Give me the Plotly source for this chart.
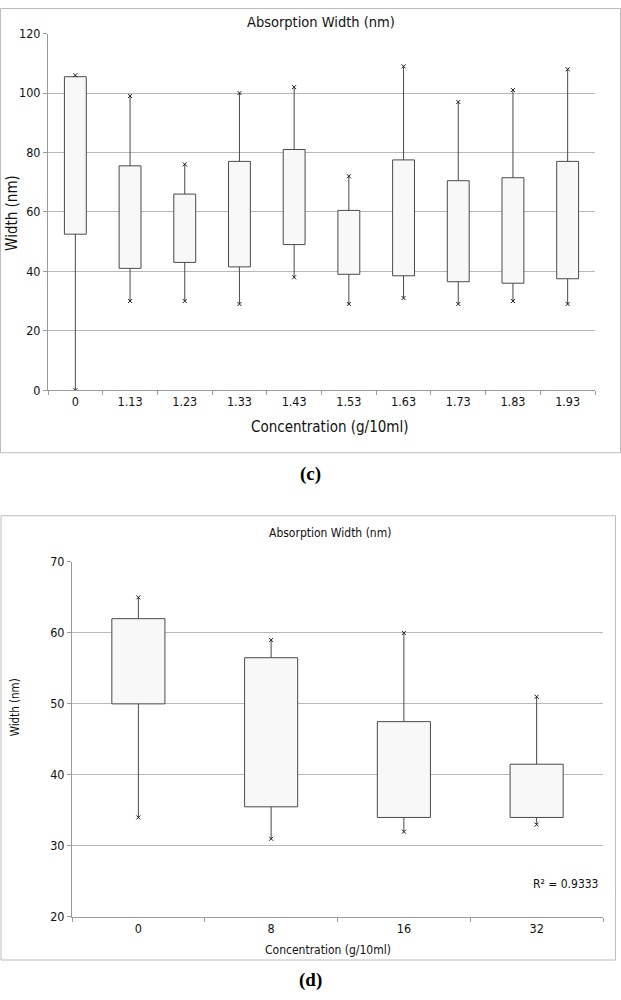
import plotly.graph_objects as go

# ---------------- data: chart (c) ----------------
cats_c = ["0", "1.13", "1.23", "1.33", "1.43", "1.53", "1.63", "1.73", "1.83", "1.93"]
c_max = [106, 99, 76, 100, 102, 72, 109, 97, 101, 108]
c_q3 = [105.5, 75.5, 66, 77, 81, 60.5, 77.5, 70.5, 71.5, 77]
c_q1 = [52.5, 41, 43, 41.5, 49, 39, 38.5, 36.5, 36, 37.5]
c_min = [0, 30, 30, 29, 38, 29, 31, 29, 30, 29]
c_yticks = [0, 20, 40, 60, 80, 100, 120]

# ---------------- data: chart (d) ----------------
cats_d = ["0", "8", "16", "32"]
d_max = [65, 59, 60, 51]
d_q3 = [62, 56.5, 47.5, 41.5]
d_q1 = [50, 35.5, 34, 34]
d_min = [34, 31, 32, 33]
d_yticks = [20, 30, 40, 50, 60, 70]
r2_text = "R² = 0.9333"

W, H = 621, 1000
FONT = "DejaVu Sans Condensed, DejaVu Sans, sans-serif"
BOX_LINE = "#4a4a4a"
BOX_FILL = "#f8f8f8"
GRID = "#b8b8b8"
AXIS = "#9a9a9a"
BORDER = "#bcbcbc"


def px(x):
    return x / W


def py(y):
    return 1 - y / H


def add_boxes(fig, cats, lo, q1, q3, hi, xa, ya):
    # whiskers (drawn first, under the boxes)
    wx, wy = [], []
    for c, a, b, c3, d in zip(cats, lo, q1, q3, hi):
        wx += [c, c, None, c, c, None]
        wy += [c3, d, None, b, a, None]
    fig.add_trace(go.Scatter(
        x=wx, y=wy, mode="lines", line=dict(color=BOX_LINE, width=1),
        xaxis=xa, yaxis=ya, hoverinfo="skip", showlegend=False))
    # boxes from Q1 to Q3
    fig.add_trace(go.Bar(
        x=cats, y=[b - a for a, b in zip(q1, q3)], base=q1, width=0.4,
        marker=dict(color=BOX_FILL, line=dict(color=BOX_LINE, width=1)),
        xaxis=xa, yaxis=ya, hoverinfo="skip", showlegend=False))
    # x markers at min and max
    fig.add_trace(go.Scatter(
        x=list(cats) + list(cats), y=list(hi) + list(lo), mode="markers",
        marker=dict(symbol="x-thin", size=4, line=dict(color="#222222", width=1)),
        xaxis=xa, yaxis=ya, hoverinfo="skip", showlegend=False))


fig = go.Figure()
add_boxes(fig, cats_c, c_min, c_q1, c_q3, c_max, "x", "y")
add_boxes(fig, cats_d, d_min, d_q1, d_q3, d_max, "x2", "y2")

axis_common = dict(showline=True, linecolor=AXIS, linewidth=1, ticks="outside",
                   ticklen=4, tickcolor=AXIS, zeroline=False, fixedrange=True,
                   tickfont=dict(family=FONT, size=12.5, color="#111111"))

fig.update_layout(
    width=W, height=H, autosize=False,
    margin=dict(l=0, r=0, t=0, b=0),
    paper_bgcolor="white", plot_bgcolor="white",
    font=dict(family=FONT, color="#111111"),
    xaxis=dict(domain=[px(48), px(595)], anchor="y", type="category",
               categoryorder="array", categoryarray=cats_c,
               range=[-0.5, len(cats_c) - 0.5],
               tickson="boundaries", showgrid=False, **axis_common),
    yaxis=dict(domain=[py(388), py(26)], anchor="x", range=[0, 120],
               tickvals=c_yticks, showgrid=True, gridcolor=GRID, gridwidth=1,
               **axis_common),
    xaxis2=dict(domain=[px(72), px(603)], anchor="y2", type="category",
                categoryorder="array", categoryarray=cats_d,
                range=[-0.5, len(cats_d) - 0.5],
                tickson="boundaries", showgrid=False, **axis_common),
    yaxis2=dict(domain=[py(922.7), py(562.3)], anchor="x2", range=[20, 70],
                tickvals=d_yticks, showgrid=True, gridcolor=GRID, gridwidth=1,
                **axis_common),
)

annotations = [
    # chart (c)
    dict(text="Absorption Width (nm)", x=px(321), y=py(14), size=14.5),
    dict(text="Width (nm)", x=px(12), y=py(208), size=15, angle=-90),
    dict(text="Concentration (g/10ml)", x=px(329.5), y=py(425), size=15),
    # chart (d)
    dict(text="Absorption Width (nm)", x=px(329.7), y=py(533), size=12),
    dict(text="Width (nm)", x=px(15), y=py(710), size=11.5, angle=-90),
    dict(text="Concentration (g/10ml)", x=px(328), y=py(956), size=12),
    dict(text=r2_text, x=px(565.8), y=py(889.3), size=12),
]
ann_list = []
for a in annotations:
    ann_list.append(dict(
        text=a["text"], x=a["x"], y=a["y"], xref="paper", yref="paper",
        xanchor="center", yanchor="middle", showarrow=False,
        textangle=a.get("angle", 0),
        font=dict(family=FONT, size=a["size"], color="#111111")))
# panel labels
for lab, yy in (("(c)", 473.3), ("(d)", 987)):
    ann_list.append(dict(
        text="<b>" + lab + "</b>", x=px(310.5), y=py(yy), xref="paper", yref="paper",
        xanchor="center", yanchor="middle", showarrow=False,
        font=dict(family="Liberation Serif, Times New Roman, serif", size=19, color="#000000")))
fig.update_layout(annotations=ann_list)

# chart-area borders
fig.update_layout(shapes=[
    dict(type="rect", xref="paper", yref="paper",
         x0=px(0.5), x1=px(620.5), y0=py(451.5), y1=py(0.5),
         line=dict(color=BORDER, width=1), fillcolor="rgba(0,0,0,0)", layer="below"),
    dict(type="rect", xref="paper", yref="paper",
         x0=px(1), x1=px(615.5), y0=py(966.5), y1=py(515.5),
         line=dict(color=BORDER, width=1), fillcolor="rgba(0,0,0,0)", layer="below"),
])

fig.write_html("out.html", config={"displayModeBar": False},
               post_script="document.body.style.margin='0';")
